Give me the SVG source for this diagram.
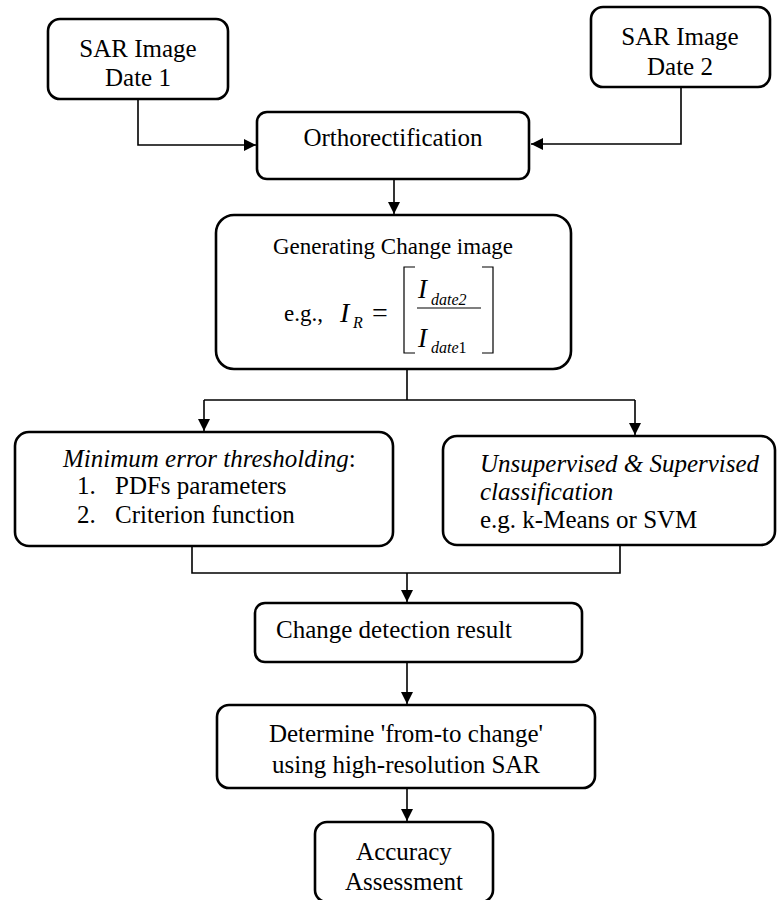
<svg xmlns="http://www.w3.org/2000/svg" width="784" height="900" viewBox="0 0 784 900">
<style>
.box{fill:#fff;stroke:#000;stroke-width:2.6}
.t{font-family:'Liberation Serif',Tinos,'Times New Roman','DejaVu Serif','Noto Serif',serif;font-size:25px;fill:#000}
.i{font-style:italic}
.c{text-anchor:middle}
.ln{fill:none;stroke:#000;stroke-width:1.6}
.br{fill:none;stroke:#000;stroke-width:1.2}
</style>
<defs>
<marker id="ah" viewBox="0 0 12 12" refX="12" refY="6" markerWidth="12" markerHeight="12" markerUnits="userSpaceOnUse" orient="auto">
<path d="M0,0 L12,6 L0,12 Z" fill="#000"/>
</marker>
</defs>
<rect width="784" height="900" fill="#fff"/>
<g id="connectors">
<path class="ln" d="M138,99 V145 H256" marker-end="url(#ah)"/>
<path class="ln" d="M681,87 V144 H531" marker-end="url(#ah)"/>
<path class="ln" d="M394,179 V214" marker-end="url(#ah)"/>
<path class="ln" d="M407,369 V400"/>
<path class="ln" d="M204,400 H635"/>
<path class="ln" d="M204,400 V431" marker-end="url(#ah)"/>
<path class="ln" d="M635,400 V435" marker-end="url(#ah)"/>
<path class="ln" d="M192,546 V573 H620 V545"/>
<path class="ln" d="M407,573 V602" marker-end="url(#ah)"/>
<path class="ln" d="M407,662 V704" marker-end="url(#ah)"/>
<path class="ln" d="M407,788 V821" marker-end="url(#ah)"/>
</g>
<g id="sar1">
<rect class="box" x="48" y="19" width="180" height="80" rx="12"/>
<text class="t c" x="138" y="57">SAR Image</text>
<text class="t c" x="138" y="86">Date 1</text>
</g>
<g id="sar2">
<rect class="box" x="591" y="7" width="179" height="80" rx="12"/>
<text class="t c" x="680" y="45">SAR Image</text>
<text class="t c" x="680" y="75">Date 2</text>
</g>
<g id="ortho">
<rect class="box" x="257" y="112" width="272" height="67" rx="10"/>
<text class="t c" x="393" y="146">Orthorectification</text>
</g>
<g id="genchange">
<rect class="box" x="216" y="215" width="355" height="154" rx="18"/>
<text class="t c" x="393" y="254" style="font-size:23px">Generating Change image</text>
<text class="t" x="284" y="321" style="font-size:23px">e.g.,</text>
<text class="t i" x="340" y="322" style="font-size:28px">I</text>
<text class="t i" x="353" y="328" style="font-size:16px">R</text>
<text class="t" x="372" y="322" style="font-size:28px">=</text>
<path class="br" d="M415,267 H404 V353 H415"/>
<path class="br" d="M482,267 H493 V353 H482"/>
<line class="br" x1="417" y1="308" x2="481" y2="308"/>
<text class="t i" x="418" y="298" style="font-size:27px">I</text>
<text class="t i" x="431" y="305" style="font-size:16px">date2</text>
<text class="t i" x="418" y="347" style="font-size:27px">I</text>
<text class="t" x="431" y="353" style="font-size:16px"><tspan class="i">date</tspan>1</text>
</g>
<g id="threshold">
<rect class="box" x="15" y="432" width="378" height="114" rx="14"/>
<text class="t" x="63" y="467"><tspan class="i">Minimum error thresholding</tspan>:</text>
<text class="t" x="77" y="494">1.</text>
<text class="t" x="115" y="494">PDFs parameters</text>
<text class="t" x="77" y="523">2.</text>
<text class="t" x="115" y="523">Criterion function</text>
</g>
<g id="classification">
<rect class="box" x="443" y="436" width="332" height="109" rx="14"/>
<text class="t i" x="480" y="472">Unsupervised &amp; Supervised</text>
<text class="t i" x="480" y="500">classification</text>
<text class="t" x="480" y="528">e.g. k-Means or SVM</text>
</g>
<g id="result">
<rect class="box" x="255" y="603" width="327" height="59" rx="10"/>
<text class="t" x="276" y="638">Change detection result</text>
</g>
<g id="fromto">
<rect class="box" x="217" y="705" width="378" height="83" rx="12"/>
<text class="t c" x="406" y="742">Determine 'from-to change'</text>
<text class="t c" x="406" y="773">using high-resolution SAR</text>
</g>
<g id="accuracy">
<rect class="box" x="315" y="822" width="178" height="80" rx="12"/>
<text class="t c" x="404" y="860">Accuracy</text>
<text class="t c" x="404" y="890">Assessment</text>
</g>
</svg>
